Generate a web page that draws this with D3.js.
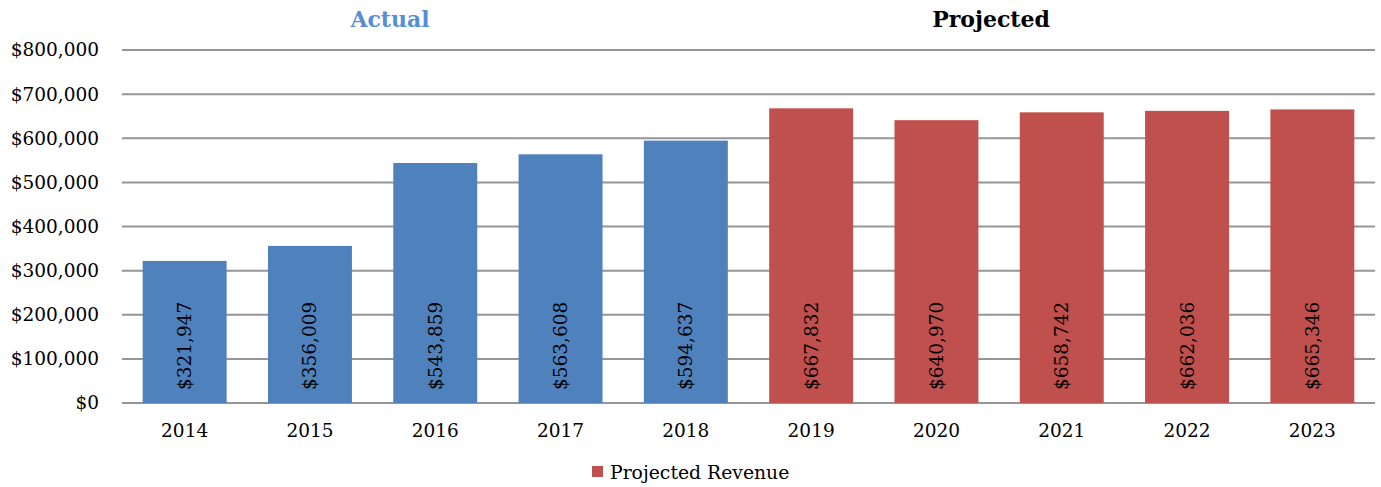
<!DOCTYPE html>
<html>
<head>
<meta charset="utf-8">
<script src="https://cdn.jsdelivr.net/npm/d3@7"></script>
<style>
  body { margin: 0; background: #fff; }
  text { font-family: "DejaVu Serif", serif; }
</style>
</head>
<body>
<svg width="1381" height="487"></svg>
<script>
// data
var years = ["2014", "2015", "2016", "2017", "2018", "2019", "2020", "2021", "2022", "2023"];
var revenue = [321947, 356009, 543859, 563608, 594637, 667832, 640970, 658742, 662036, 665346];
var kind = ["actual", "actual", "actual", "actual", "actual", "projected", "projected", "projected", "projected", "projected"];
var yTicks = [0, 100000, 200000, 300000, 400000, 500000, 600000, 700000, 800000];

var colors = { actual: "#4F81BD", projected: "#C0504D" };

var svg = d3.select("svg"),
    margin = { top: 50, right: 6, bottom: 84, left: 122 },
    width = +svg.attr("width") - margin.left - margin.right,
    height = +svg.attr("height") - margin.top - margin.bottom;

var g = svg.append("g").attr("transform", "translate(" + margin.left + "," + margin.top + ")");

var x = d3.scaleBand().domain(years).range([0, width]).paddingInner(0.33).paddingOuter(0.165);
var y = d3.scaleLinear().domain([0, 800000]).range([height, 0]);

var fmt = d3.format("$,");

// grid lines
g.append("g")
    .selectAll("line")
    .data(yTicks)
    .enter().append("line")
    .attr("x1", 0)
    .attr("x2", width)
    .attr("y1", function(d) { return y(d); })
    .attr("y2", function(d) { return y(d); })
    .style("stroke", "#969696")
    .style("stroke-width", 2);

// y axis labels
var yAxis = g.append("g")
    .call(d3.axisLeft(y).tickValues(yTicks).tickFormat(fmt).tickSize(0).tickPadding(23));
yAxis.select(".domain").remove();
yAxis.selectAll("text")
    .style("font-family", "DejaVu Serif, serif")
    .style("font-size", "18.5px")
    .style("fill", "#000");

// x axis labels
var xAxis = g.append("g")
    .attr("transform", "translate(0," + height + ")")
    .call(d3.axisBottom(x).tickSize(0).tickPadding(21));
xAxis.select(".domain").remove();
xAxis.selectAll("text")
    .style("font-family", "DejaVu Serif, serif")
    .style("font-size", "18.5px")
    .style("fill", "#000");

var rows = years.map(function(yr, i) { return { year: yr, value: revenue[i], kind: kind[i] }; });

// bars
g.append("g")
    .selectAll("rect")
    .data(rows)
    .enter().append("rect")
    .attr("x", function(d) { return x(d.year); })
    .attr("width", x.bandwidth())
    .attr("y", function(d) { return y(d.value); })
    .attr("height", function(d) { return height - y(d.value); })
    .style("fill", function(d) { return colors[d.kind]; });

// value labels, rotated
g.append("g")
    .selectAll("text")
    .data(rows)
    .enter().append("text")
    .attr("transform", function(d) {
      return "translate(" + (x(d.year) + x.bandwidth() / 2) + "," + (height - 13) + ") rotate(-90)";
    })
    .attr("dy", "0.35em")
    .style("font-size", "18.5px")
    .style("fill", "#000")
    .text(function(d) { return fmt(d.value); });

// section titles
svg.append("text")
    .attr("x", 390)
    .attr("y", 27)
    .attr("text-anchor", "middle")
    .style("font-size", "22px")
    .style("font-weight", "bold")
    .style("fill", "#558ED5")
    .text("Actual");

svg.append("text")
    .attr("x", 991)
    .attr("y", 27)
    .attr("text-anchor", "middle")
    .style("font-size", "22px")
    .style("font-weight", "bold")
    .style("fill", "#000")
    .text("Projected");

// legend
var legend = svg.append("g").attr("transform", "translate(592,466)");
legend.append("rect")
    .attr("width", 11)
    .attr("height", 11)
    .style("fill", colors.projected);
legend.append("text")
    .attr("x", 18)
    .attr("y", 13)
    .style("font-size", "18.8px")
    .style("fill", "#000")
    .text("Projected Revenue");
</script>
</body>
</html>
